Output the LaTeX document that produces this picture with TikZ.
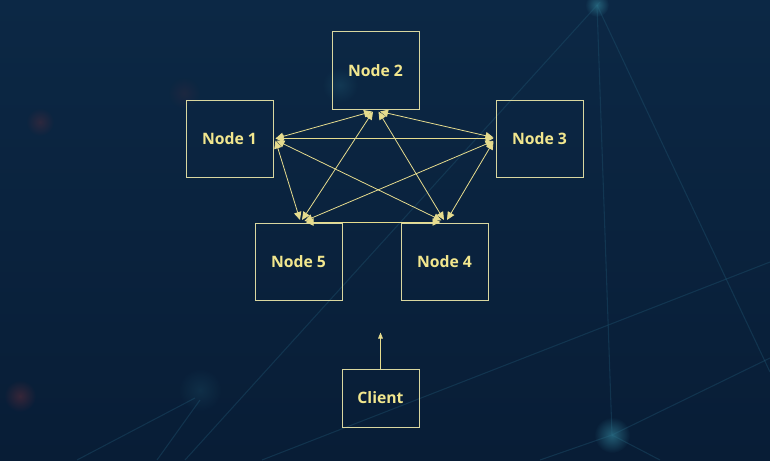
\documentclass[tikz,border=0pt]{standalone}
\usepackage{fontspec}
\setmainfont{Open Sans}
\usetikzlibrary{arrows.meta,calc,fadings}
\tikzfading[name=glowfade, inner color=transparent!0, outer color=transparent!100]
\definecolor{bgtop}{HTML}{0C2845}
\definecolor{bgbot}{HTML}{081D36}
\definecolor{edgecol}{HTML}{E6DC8E}
\definecolor{boxcol}{HTML}{D9D7A0}
\definecolor{txtcol}{HTML}{F2E78E}
\definecolor{decol}{HTML}{1F5470}
\definecolor{glowteal}{HTML}{2A6F86}
\definecolor{glowred}{HTML}{7A3038}
\tikzset{
  nodebox/.style={draw=boxcol, line width=0.75pt, minimum width=65.25pt, minimum height=57.75pt, inner sep=0pt, text=txtcol, font=\bfseries\fontsize{11.8}{13}\selectfont},
  clientbox/.style={nodebox, minimum width=57.75pt, minimum height=43.5pt},
  link/.style={draw=edgecol, line width=0.6pt, {Triangle[length=6pt,width=5.5pt]}-{Triangle[length=6pt,width=5.5pt]}},
  uplink/.style={draw=edgecol, line width=0.6pt, -{Triangle[length=4.5pt,width=3.5pt]}},
  deco/.style={draw=decol, line width=0.8pt, opacity=0.4},
  glow/.style={fill=#1, path fading=glowfade},
}
\begin{document}
\begin{tikzpicture}[x=0.75pt,y=-0.75pt]
% background
\shade[top color=bgtop, bottom color=bgbot] (0,0) rectangle (770,460);
\useasboundingbox (0,0) rectangle (770,460);
% decorative background lines
\draw[deco] (597,5) -- (770,372);
\draw[deco] (597,5) -- (612,435);
\draw[deco] (600,2) -- (185,460);
\draw[deco] (262,460) -- (770,262);
\draw[deco] (612,435) -- (770,358);
\draw[deco] (77,460) -- (195,398);
\draw[deco] (157,460) -- (200,400);
\draw[deco] (612,435) -- (660,460);
\draw[deco] (540,460) -- (612,435);
% glows
\fill[glow=glowteal, opacity=0.8] (597,5) circle (12);
\fill[glow=glowteal, opacity=0.8] (612,435) circle (18);
\fill[glow=glowteal, opacity=0.2] (200,390) circle (22);
\fill[glow=glowred, opacity=0.4] (20,396) circle (16);
\fill[glow=glowred, opacity=0.3] (40,122) circle (14);
\fill[glow=glowred, opacity=0.15] (184,93) circle (16);
\fill[glow=glowteal, opacity=0.25] (340,85) circle (18);
% nodes
\node[nodebox] (n2) at (375.5,70.5) {Node 2};
\node[nodebox] (n1) at (229.5,138.5) {Node 1};
\node[nodebox] (n3) at (539.5,138.5) {Node 3};
\node[nodebox] (n5) at (298.5,261.5) {Node 5};
\node[nodebox] (n4) at (444.5,261.5) {Node 4};
\node[clientbox] (cl) at (380.5,398) {Client};
\coordinate (clend) at ($(cl.north)+(0,-36)$);
% links
\draw[link] ($(n1.east)+(2,0)$) -- ($(n2.south)+(-3.5,2)$);
\draw[link] ($(n1.east)+(2,0)$) -- ($(n3.west)+(-2,0)$);
\draw[link] ($(n1.east)+(2,2)$) -- ($(n5.north)+(1.5,-2.5)$);
\draw[link] ($(n1.east)+(3,2)$) -- ($(n4.north)+(-3,-2)$);
\draw[link] ($(n2.south)+(-2.5,2)$) -- ($(n5.north)+(3.5,-2.5)$);
\draw[link] ($(n2.south)+(3,2)$) -- ($(n4.north)+(-0.5,-2.5)$);
\draw[link] ($(n2.south)+(4.5,2)$) -- ($(n3.west)+(-2,-1)$);
\draw[link] ($(n3.west)+(-2,2.5)$) -- ($(n5.north)+(6,-1.5)$);
\draw[link] ($(n3.west)+(-2,3)$) -- ($(n4.north)+(2.5,-2.5)$);
\draw[link] ($(n5.north)+(7,-0.5)$) -- ($(n4.north)+(-4,-0.5)$);
\draw[uplink] (cl.north) -- (clend);
\end{tikzpicture}
\end{document}
